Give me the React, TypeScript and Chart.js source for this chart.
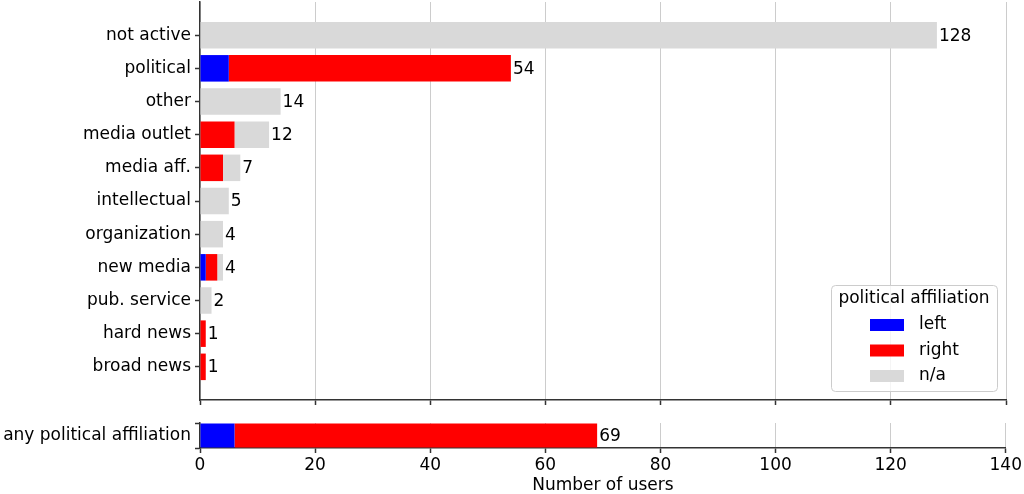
import React, { useEffect, useRef } from 'react';
import { Chart, registerables } from 'chart.js';

Chart.register(...registerables);

const categories = ['not active', 'political', 'other', 'media outlet', 'media aff.', 'intellectual', 'organization', 'new media', 'pub. service', 'hard news', 'broad news'];
const leftValues = [0, 5, 0, 0, 0, 0, 0, 1, 0, 0, 0];
const rightValues = [0, 49, 0, 6, 4, 0, 0, 2, 0, 1, 1];
const naValues = [128, 0, 14, 6, 3, 5, 4, 1, 2, 0, 0];

const summaryCategories = ['any political affiliation'];
const summaryLeft = [6];
const summaryRight = [63];
const summaryNa = [0];

const xMin = 0;
const xMax = 140;
const xStep = 20;
const seriesLabels = ['left', 'right', 'n/a'];
const seriesColors = ['#0000ff', '#ff0000', '#d9d9d9'];
const legendTitle = 'political affiliation';
const xTitle = 'Number of users';

const FONT_FAMILY = "'DejaVu Sans', sans-serif";
const FONT_SIZE = 17;
const SPINE = '#333333';
const GRID = '#cccccc';

const valueLabelPlugin = {
  id: 'valueLabels',
  afterDatasetsDraw(chart: any) {
    const ctx = chart.ctx;
    const n = chart.data.labels.length;
    const xScale = chart.scales.x;
    ctx.save();
    ctx.font = `${FONT_SIZE}px ${FONT_FAMILY}`;
    ctx.fillStyle = '#000';
    ctx.textAlign = 'left';
    ctx.textBaseline = 'middle';
    for (let i = 0; i < n; i++) {
      let total = 0;
      chart.data.datasets.forEach((ds: any) => {
        const d = ds.data[i];
        total += typeof d === 'number' ? d : d.x;
      });
      const el = chart.getDatasetMeta(0).data[i];
      const x = xScale.getPixelForValue(total) + 2;
      ctx.fillText(String(total), x, el.y + 1);
    }
    ctx.restore();
  },
};

const legendPlugin = {
  id: 'customLegend',
  afterDraw(chart: any) {
    const { ctx, chartArea } = chart;
    const w = 166;
    const h = 106;
    const right = chartArea.right - 9;
    const bottom = chartArea.bottom - 9;
    const left = right - w;
    const top = bottom - h;
    ctx.save();
    ctx.beginPath();
    if (ctx.roundRect) ctx.roundRect(left + 0.5, top + 0.5, w, h, 4);
    else ctx.rect(left + 0.5, top + 0.5, w, h);
    ctx.fillStyle = 'rgba(255,255,255,0.8)';
    ctx.fill();
    ctx.strokeStyle = '#cccccc';
    ctx.lineWidth = 1;
    ctx.stroke();
    ctx.font = `${FONT_SIZE}px ${FONT_FAMILY}`;
    ctx.fillStyle = '#000';
    ctx.textBaseline = 'middle';
    ctx.textAlign = 'center';
    ctx.fillText(legendTitle, left + w / 2, top + 14);
    ctx.textAlign = 'left';
    chart.data.datasets.forEach((ds: any, i: number) => {
      const cy = top + 40 + i * 25.5;
      ctx.fillStyle = ds.backgroundColor;
      ctx.fillRect(left + 39, cy - 6, 34, 12);
      ctx.fillStyle = '#000';
      ctx.fillText(ds.label, left + 88, cy);
    });
    ctx.restore();
  },
};

function makeDatasets(values: number[][], asPoints: boolean) {
  return values.map((vals, k) => ({
    label: seriesLabels[k],
    data: asPoints ? vals.map((v, i) => ({ x: v, y: i })) : vals,
    backgroundColor: seriesColors[k],
    borderWidth: 0,
    grouped: false,
  }));
}

export default function App() {
  const topRef = useRef<HTMLCanvasElement | null>(null);
  const bottomRef = useRef<HTMLCanvasElement | null>(null);

  useEffect(() => {
    const font = { family: FONT_FAMILY, size: FONT_SIZE };
    const top = new Chart(topRef.current as HTMLCanvasElement, {
      type: 'bar',
      data: {
        labels: categories,
        datasets: makeDatasets([leftValues, rightValues, naValues], true) as any,
      },
      plugins: [valueLabelPlugin, legendPlugin],
      options: {
        indexAxis: 'y',
        animation: false,
        responsive: false,
        layout: { padding: { top: 2, right: 18, left: 0, bottom: 0 } },
        datasets: { bar: { barPercentage: 0.8, categoryPercentage: 1 } },
        plugins: { legend: { display: false }, tooltip: { enabled: false } },
        scales: {
          x: {
            type: 'linear',
            min: xMin,
            max: xMax,
            stacked: true,
            ticks: { display: false, stepSize: xStep },
            grid: { color: GRID, lineWidth: 1, drawTicks: true, tickLength: 5, tickColor: SPINE, tickWidth: 1.5 },
            border: { display: true, color: SPINE, width: 1.5 },
            afterFit: (s: any) => { s.height = 10; s.paddingLeft = 0; s.paddingRight = 0; },
          },
          y: {
            type: 'linear',
            min: -1,
            max: categories.length,
            reverse: true,
            offset: false,
            afterBuildTicks: (s: any) => { s.ticks = categories.map((_, i) => ({ value: i })); },
            ticks: {
              autoSkip: false,
              font,
              color: '#000',
              padding: 4,
              callback: (v: any) => categories[v] ?? '',
            },
            grid: { offset: false, drawOnChartArea: false, drawTicks: true, tickLength: 5, tickColor: SPINE, tickWidth: 1.5 },
            border: { display: true, color: SPINE, width: 1.5 },
            afterFit: (s: any) => { s.width = 200; s.paddingTop = 0; s.paddingBottom = 0; },
          },
        },
      } as any,
    });

    const bottom = new Chart(bottomRef.current as HTMLCanvasElement, {
      type: 'bar',
      data: {
        labels: summaryCategories,
        datasets: makeDatasets([summaryLeft, summaryRight, summaryNa], false) as any,
      },
      plugins: [valueLabelPlugin],
      options: {
        indexAxis: 'y',
        animation: false,
        responsive: false,
        layout: { padding: { top: 13, right: 18, left: 0, bottom: 0 } },
        datasets: { bar: { barPercentage: 0.96, categoryPercentage: 1 } },
        plugins: { legend: { display: false }, tooltip: { enabled: false } },
        scales: {
          x: {
            type: 'linear',
            min: xMin,
            max: xMax,
            stacked: true,
            ticks: { stepSize: xStep, font, color: '#000', padding: 2 },
            grid: { color: GRID, lineWidth: 1, drawTicks: true, tickLength: 5, tickColor: SPINE, tickWidth: 1.5 },
            border: { display: true, color: SPINE, width: 1.5 },
            title: { display: true, text: xTitle, font: { ...font, lineHeight: 1 }, color: '#000', padding: { top: 0, bottom: 0 } },
            afterFit: (s: any) => { s.height = 46; },
          },
          y: {
            type: 'category',
            offset: true,
            ticks: { font, color: '#000', padding: 4 },
            grid: { drawOnChartArea: false, drawTicks: true, tickLength: 5, tickColor: SPINE, tickWidth: 1.5 },
            border: { display: true, color: SPINE, width: 1.5 },
            afterFit: (s: any) => { s.width = 200; s.paddingTop = 0; s.paddingBottom = 0; },
          },
        },
      } as any,
    });

    return () => {
      top.destroy();
      bottom.destroy();
    };
  }, []);

  return (
    <div style={{ position: 'fixed', left: 0, top: 0, width: 1024, height: 494, background: '#fff' }}>
      <canvas ref={topRef} width={1024} height={410} style={{ position: 'absolute', left: 0, top: 0 }} />
      <canvas ref={bottomRef} width={1024} height={84} style={{ position: 'absolute', left: 0, top: 410 }} />
    </div>
  );
}
